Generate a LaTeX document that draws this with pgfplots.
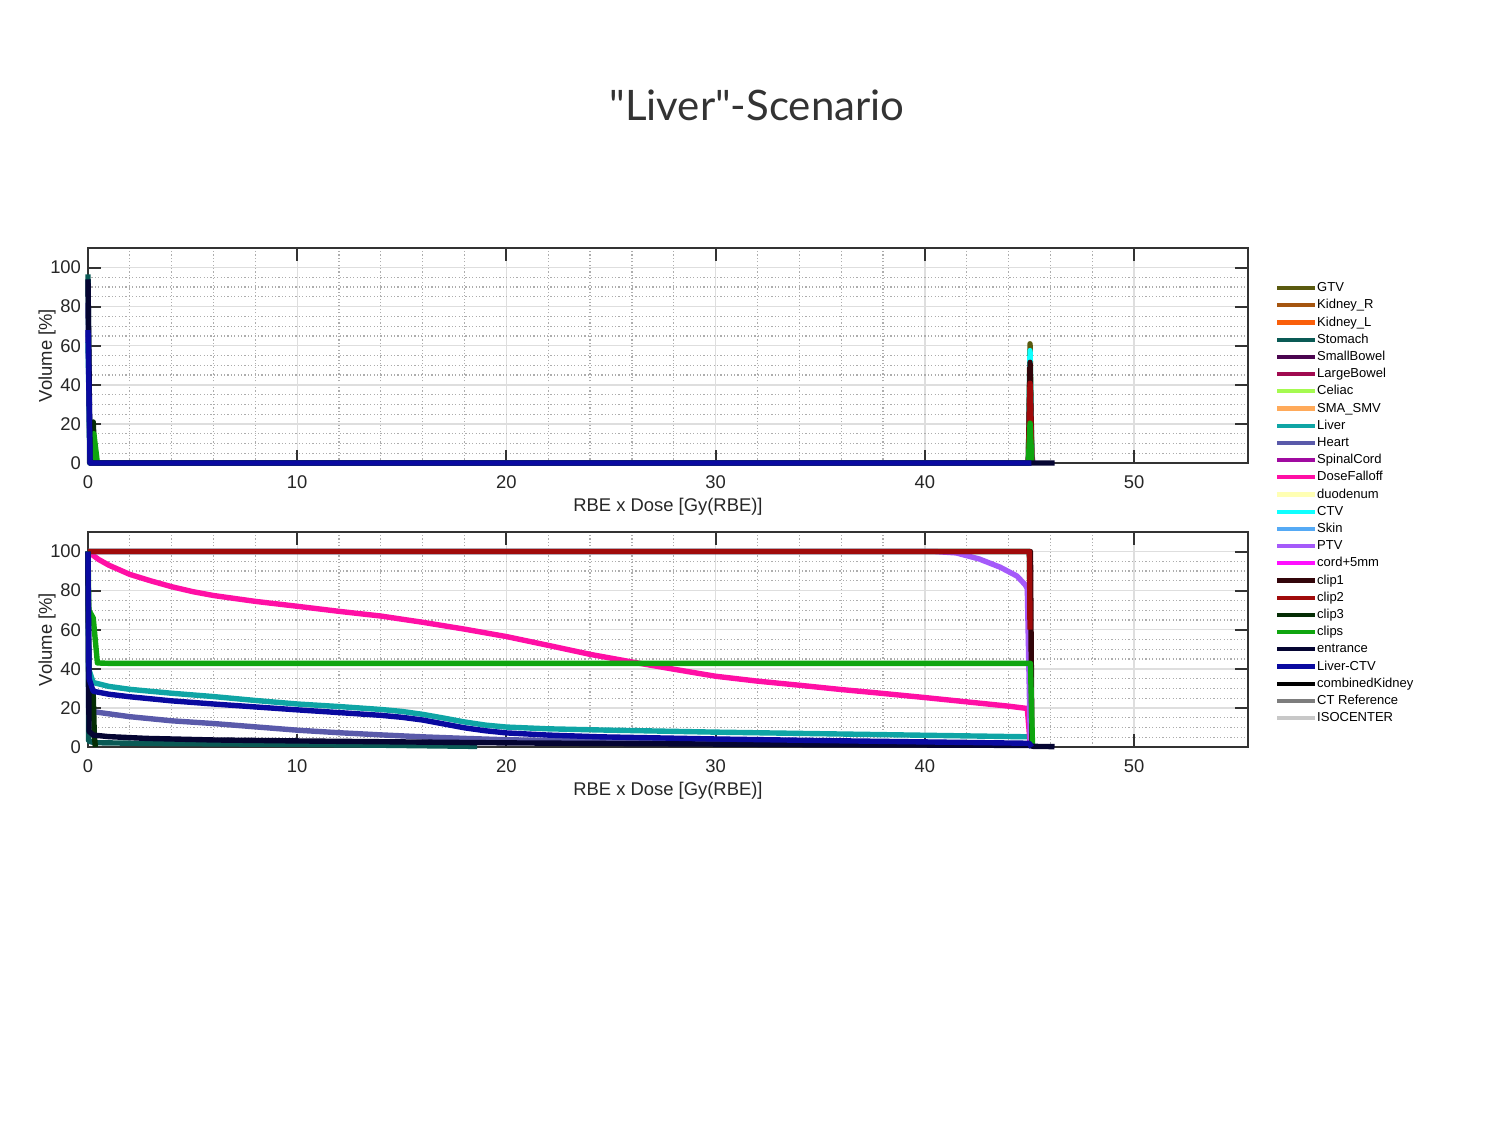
\documentclass[border=0pt]{standalone}
\usepackage{pgfplots}
\pgfplotsset{compat=1.18}
\usepackage{fontspec}
\setmainfont{Liberation Sans}
\newfontfamily\titlefont{Lato}

\definecolor{cGTV}{RGB}{90,90,15}
\definecolor{cKidR}{RGB}{165,85,15}
\definecolor{cKidL}{RGB}{250,95,10}
\definecolor{cStomach}{RGB}{10,90,85}
\definecolor{cSmallB}{RGB}{75,5,80}
\definecolor{cLargeB}{RGB}{160,10,80}
\definecolor{cCeliac}{RGB}{165,250,80}
\definecolor{cSMA}{RGB}{255,170,90}
\definecolor{cLiver}{RGB}{15,165,165}
\definecolor{cHeart}{RGB}{90,90,170}
\definecolor{cSpinal}{RGB}{160,10,160}
\definecolor{cFalloff}{RGB}{255,15,165}
\definecolor{cDuod}{RGB}{255,255,180}
\definecolor{cCTV}{RGB}{15,255,255}
\definecolor{cSkin}{RGB}{85,170,245}
\definecolor{cPTV}{RGB}{165,90,250}
\definecolor{cCord}{RGB}{255,15,255}
\definecolor{cClip1}{RGB}{50,5,10}
\definecolor{cClip2}{RGB}{160,10,10}
\definecolor{cClip3}{RGB}{5,45,5}
\definecolor{cClips}{RGB}{15,165,15}
\definecolor{cEntrance}{RGB}{5,5,50}
\definecolor{cLiverCTV}{RGB}{10,10,160}
\definecolor{cKidney}{RGB}{0,0,0}
\definecolor{cCT}{RGB}{125,125,125}
\definecolor{cIso}{RGB}{200,200,200}

\pgfplotsset{
  dvh/.style={
    width=580bp, height=107.5bp, scale only axis,
    xmin=0, xmax=55.45, ymin=0, ymax=110,
    xtick={0,10,...,50}, ytick={0,20,...,100},
    minor x tick num=4, minor y tick num=3,
    grid=both,
    major grid style={color=black!13, line width=0.7bp},
    minor grid style={color=black!32, line width=0.6bp, dash pattern=on 0.6bp off 1.1bp},
    axis line style={color=black!80, line width=1.2bp},
    major tick style={color=black!80, line width=1bp},
    major tick length=6.5bp, minor tick length=0pt,
    tick align=inside,
    clip=false,
    /pgf/number format/assume math mode=true,
    tick label style={font=\fontsize{9.2bp}{11bp}\selectfont, text=black!85},
    xticklabel style={yshift=-3bp},
    label style={font=\fontsize{9.2bp}{11bp}\selectfont, text=black!85},
    xlabel={RBE x Dose [Gy(RBE)]},
    ylabel={Volume [\%]},
    xlabel style={at={(axis description cs:0.5,-0.205)}, anchor=center},
    ylabel style={at={(axis description cs:-0.0353,0.5)}, anchor=center},
    every axis plot/.append style={line width=2.7bp, line join=round},
  },
}

\begin{document}
\begin{tikzpicture}
\path[use as bounding box] (0,0) rectangle (756bp,567bp);
\node[font=\titlefont\fontsize{21bp}{25bp}\selectfont, text=black!80] at (378.5bp,514.5bp) {"Liver"-Scenario};

% top: differential DVH
\begin{axis}[dvh, at={(44bp,335.5bp)}, anchor=south west,
  legend cell align=left,
  legend image code/.code={\draw[#1, line width=2.1bp] (0bp,0bp) -- (19bp,0bp);},
  legend style={at={(axis description cs:1.0233,0.8437)}, anchor=north west,
    draw=none, fill=none, inner sep=0pt, outer sep=0pt,
    font=\fontsize{6.5bp}{7.5bp}\selectfont, row sep=2.1bp,
    nodes={inner sep=0pt, text height=5bp, text depth=1.5bp}},
]
\addlegendimage{cGTV}\addlegendentry{GTV}
\addlegendimage{cKidR}\addlegendentry{Kidney\_R}
\addlegendimage{cKidL}\addlegendentry{Kidney\_L}
\addlegendimage{cStomach}\addlegendentry{Stomach}
\addlegendimage{cSmallB}\addlegendentry{SmallBowel}
\addlegendimage{cLargeB}\addlegendentry{LargeBowel}
\addlegendimage{cCeliac}\addlegendentry{Celiac}
\addlegendimage{cSMA}\addlegendentry{SMA\_SMV}
\addlegendimage{cLiver}\addlegendentry{Liver}
\addlegendimage{cHeart}\addlegendentry{Heart}
\addlegendimage{cSpinal}\addlegendentry{SpinalCord}
\addlegendimage{cFalloff}\addlegendentry{DoseFalloff}
\addlegendimage{cDuod}\addlegendentry{duodenum}
\addlegendimage{cCTV}\addlegendentry{CTV}
\addlegendimage{cSkin}\addlegendentry{Skin}
\addlegendimage{cPTV}\addlegendentry{PTV}
\addlegendimage{cCord}\addlegendentry{cord+5mm}
\addlegendimage{cClip1}\addlegendentry{clip1}
\addlegendimage{cClip2}\addlegendentry{clip2}
\addlegendimage{cClip3}\addlegendentry{clip3}
\addlegendimage{cClips}\addlegendentry{clips}
\addlegendimage{cEntrance}\addlegendentry{entrance}
\addlegendimage{cLiverCTV}\addlegendentry{Liver-CTV}
\addlegendimage{cKidney}\addlegendentry{combinedKidney}
\addlegendimage{cCT}\addlegendentry{CT Reference}
\addlegendimage{cIso}\addlegendentry{ISOCENTER}

\addplot[cGTV, forget plot] coordinates {(44.95,0) (45.03,61) (45.12,0)};
\addplot[cStomach, forget plot] coordinates {(0,96.5) (0.08,0) (18.6,0)};
\addplot[cLiver, forget plot] coordinates {(0,62) (0.1,0) (45.1,0)};
\addplot[cHeart, forget plot] coordinates {(0,82) (0.1,0) (45.1,0)};
\addplot[cCTV, forget plot] coordinates {(44.95,0) (45.03,57.5) (45.12,0)};
\addplot[cPTV, forget plot] coordinates {(44.98,0) (45.12,4) (45.18,0)};
\addplot[cClip1, forget plot] coordinates {(44.95,0) (45.03,51.5) (45.12,0)};
\addplot[cClip2, forget plot] coordinates {(44.95,0) (45.03,40.8) (45.12,0)};
\addplot[cClip3, forget plot] coordinates {(0.15,0) (0.25,21) (0.33,0)};
\addplot[cClips, forget plot] coordinates {(0.15,0) (0.28,15) (0.45,0) (44.95,0) (45.03,20.4) (45.12,0)};
\addplot[cEntrance, forget plot] coordinates {(0,94) (0.1,0) (46.2,0)};
\addplot[cLiverCTV, forget plot] coordinates {(0,68) (0.1,0) (45.1,0)};
\end{axis}

% bottom: cumulative DVH
\begin{axis}[dvh, at={(44bp,193.5bp)}, anchor=south west]
\addplot[cGTV] coordinates {(0,100) (45,100) (45.1,0)};
\addplot[cStomach] coordinates {(0,100) (0.03,3) (0.3,2.2) (3,1.8) (6,1.6) (10,1.3) (14,0.9) (18.6,0.3)};
\addplot[cLiver] coordinates {(0,100) (0.03,40) (0.25,33) (1,31) (2,29.5) (4,27.5) (6,25.8) (8,23.8) (10,22) (12,20.7) (14,19.2) (15,18.2) (16,16.7) (17,14.8) (18,12.8) (19,11.2) (20,10.2) (22,9.3) (24.5,8.7) (30,7.6) (35,6.8) (40,6) (45,5.2) (45.1,0)};
\addplot[cHeart] coordinates {(0,100) (0.03,20) (0.3,18) (2,15.5) (4,13.4) (6,12) (8,10.3) (10,8.6) (12,7.3) (14,6.2) (16,5.2) (18,4.4) (20,3.7) (25,2.9) (30,2.4) (35,2) (40,1.7) (45,1.4) (45.1,0)};
\addplot[cFalloff] coordinates {(0,100) (0.5,96) (1,93) (2,88.3) (3,85) (4,82) (5,79.5) (6,77.5) (8,74.5) (10,72) (12,69.4) (14,67) (16,63.8) (18,60.3) (20,56.5) (22,52) (24,47.4) (26,43.5) (28,39.8) (30,36.2) (32,33.7) (34,31.6) (36,29.4) (38,27.4) (40,25.3) (42,23.1) (44,20.9) (44.9,19.7) (45.05,0)};
\addplot[cCTV] coordinates {(0,100) (45,100) (45.1,0)};
\addplot[cPTV] coordinates {(0,100) (40.5,100) (41.5,99.3) (42.6,96.2) (43.6,92) (44.4,87.5) (44.8,83) (44.9,81) (45.05,0)};
\addplot[cClip1] coordinates {(0,100) (45.05,100) (45.12,0)};
\addplot[cClip2] coordinates {(0,100) (45,100) (45.03,60)};
\addplot[cClip3] coordinates {(0,100) (0.04,32) (0.25,27) (0.3,7) (0.35,0)};
\addplot[cClips] coordinates {(0,100) (0.04,70) (0.25,66) (0.45,43) (1,42.8) (45.05,42.8) (45.15,0)};
\addplot[cEntrance] coordinates {(0,100) (0.05,8) (0.25,6.1) (1,5.3) (2.8,4.4) (6,3.6) (10,3.1) (15,2.6) (20,2.1) (25,1.8) (30,1.5) (35,1.2) (40,1) (45,0.8) (45.2,0.3) (46.2,0.2)};
\addplot[cLiverCTV] coordinates {(0,100) (0.05,35) (0.25,28.5) (1,27) (2,25.7) (4,23.6) (6,22) (8,20.5) (10,19) (12,17.6) (14,16.2) (15,15.2) (16,13.8) (17,11.8) (18,9.8) (19,8.3) (20,7.2) (22,6.1) (24.5,5.2) (30,4.1) (35,3.3) (40,2.6) (45,1.9) (45.1,0)};
\end{axis}
\end{tikzpicture}
\end{document}
